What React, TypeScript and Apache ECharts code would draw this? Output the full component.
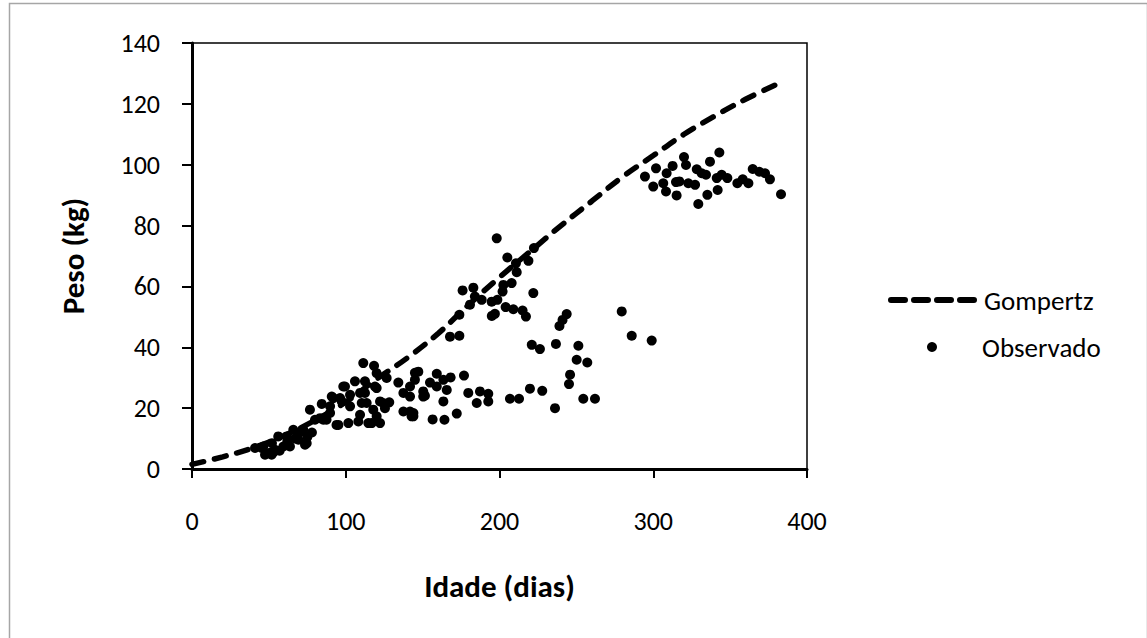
import React, { useEffect, useRef } from "react";
import * as echarts from "echarts";

const FONT = 'Carlito, Lato, "Open Sans", sans-serif';

const xTicks = [0, 100, 200, 300, 400];
const yTicks = [0, 20, 40, 60, 80, 100, 120, 140];

const gompertzAge = [0, 20, 40, 60, 80, 100, 120, 140, 160, 180, 200, 220, 240, 260, 280, 300, 320, 340, 360, 385];
const gompertzWeight = [1.5, 4, 7, 11, 16, 22, 29.5, 36.5, 44.5, 54, 63, 71.5, 80, 88, 96, 103, 110, 116, 121.5, 127.5];

const obsAge = [
  41, 45.3, 46.4, 47.5, 50.7, 51.8, 52, 53, 54, 56.1, 57, 59.4, 61.6, 62, 63.7, 65.9, 67, 69.2, 70, 72.4, 74.6, 75, 73.5, 78, 76.7,
  80, 83.3, 84.4, 85.4, 87.5, 89.8, 89.8, 90.9, 91.9, 94, 95.2, 96.3, 97.4, 98.4, 99.5, 101.7, 102.8, 102.8, 106, 108.2, 109.3, 109.3,
  110.4, 111.4, 112.5, 112.5, 113.6, 114.7, 116.9, 117.9, 118.4, 119, 120.1, 120.1, 120.1, 122.3, 122.3, 124.4, 125.5, 126.6, 128.3,
  134.2, 137.5, 137.5, 141.8, 141.8, 142.8, 144, 145, 141.8, 144,
  147.2, 145, 150.4, 151.5, 150.4, 154.8, 156.5, 159.2, 159.2, 163.5, 163.5, 164.2, 165.7, 168.2, 172.2, 176.9, 179.7, 185.2, 187.3, 192.7, 192.7,
  167.8, 173.9, 173.9, 176, 180.8, 183, 184, 188.4, 194.9, 195, 197, 198.2, 198.6, 202, 202.5, 204, 205.1, 207.9, 209, 210.7, 211.2, 215, 217.2, 218.8, 222, 222.4,
  206.8, 212.7, 219.8, 221, 226.3, 227.8, 236.1, 236.7, 239, 241, 243.7, 245.2, 245.9, 250.2, 251.3, 254.5, 257.1, 262.1,
  279.5, 286, 299,
  294.6, 300, 301.8, 306.5, 308.3, 308.7, 312.6, 314.8, 315.2, 317, 320, 321.3, 322.8, 327.2, 328.3, 329.3, 331.5, 334.3, 335.2, 336.9,
  341.3, 341.9, 343, 344.5, 348.2, 354.7, 358.2, 361.9, 364.7, 369, 372.7, 375.9, 383.1,
];

const obsWeight = [
  6.9, 6.9, 7.4, 4.7, 5.3, 4.7, 8.5, 5.5, 6.3, 10.7, 6, 7.4, 10.7, 9, 7.4, 12.9, 10, 9.6, 12, 12.9, 8.5, 10.5, 8, 12, 19.5,
  16.2, 16.7, 21.4, 16.2, 16.2, 20.6, 18.4, 23.8, 23.3, 14.5, 14.5, 23.3, 22.2, 27.1, 27.1, 15.1, 24.4, 20.6, 28.8, 15.6, 25, 17.8,
  21.7, 34.8, 28.8, 25, 21.7, 15.1, 15.1, 19.5, 33.9, 27.1, 31.5, 26.6, 17.3, 22.2, 15.1, 21.7, 20, 29.9, 21.9,
  28.4, 25, 18.9, 27.1, 18.9, 17.3, 17.3, 31.6, 23.8, 18.4,
  32, 29.3, 25.5, 24.1, 23.8, 28.4, 16.3, 31.3, 27.1, 29.3, 22.2, 16.2, 26, 30.1, 18.2, 30.7, 25, 21.7, 25.5, 24.7, 22.2,
  43.5, 43.8, 50.7, 58.7, 54, 59.6, 56.7, 55.6, 55, 50.3, 51, 75.8, 55.6, 58.3, 60.5, 53.2, 69.5, 61.1, 52.5, 67.6, 64.7, 52.1, 50.1, 68.4, 57.8, 72.6,
  23.1, 23.1, 26.4, 40.8, 39.4, 25.7, 20, 41.1, 47, 49, 50.9, 27.9, 31, 35.9, 40.5, 23.1, 35, 23.1,
  51.8, 43.8, 42.2,
  96.1, 92.8, 98.8, 93.9, 91.2, 97.2, 99.6, 94.3, 89.9, 94.5, 102.5, 99.9, 93.9, 93.4, 98.5, 87.1, 97.2, 96.7, 90.1, 101,
  95.6, 91.7, 104, 96.7, 95.6, 93.9, 95.2, 93.9, 98.6, 97.7, 97.2, 95.2, 90.3,
];

export default function App() {
  const ref = useRef<HTMLDivElement>(null);

  useEffect(() => {
    if (!ref.current) return;
    const chart = echarts.init(ref.current, undefined, { renderer: "svg" });

    const lineData = gompertzAge.map((a, i) => [a, gompertzWeight[i]]);
    const obsData = obsAge.map((a, i) => [a, obsWeight[i]]);

    const textBase = { fontFamily: FONT, color: "#000" };

    chart.setOption({
      animation: false,
      backgroundColor: "#fff",
      textStyle: { fontFamily: FONT },
      grid: {
        left: 192,
        right: 340,
        top: 43,
        bottom: 169,
        show: true,
        borderColor: "#000",
        borderWidth: 1.5,
        backgroundColor: "transparent",
      },
      xAxis: {
        type: "value",
        min: xTicks[0],
        max: xTicks[xTicks.length - 1],
        interval: 100,
        name: "Idade (dias)",
        nameLocation: "middle",
        nameGap: 101,
        nameTextStyle: { ...textBase, fontSize: 31, fontWeight: "bold" },
        axisLine: { show: true, onZero: false, lineStyle: { color: "#000", width: 3 } },
        axisTick: { show: true, inside: false, length: 9, lineStyle: { color: "#000", width: 2 } },
        axisLabel: { ...textBase, fontSize: 26, margin: 39 },
        splitLine: { show: false },
      },
      yAxis: {
        type: "value",
        min: yTicks[0],
        max: yTicks[yTicks.length - 1],
        interval: 20,
        name: "Peso (kg)",
        nameLocation: "middle",
        nameGap: 104,
        nameTextStyle: { ...textBase, fontSize: 31, fontWeight: "bold" },
        axisLine: { show: true, onZero: false, lineStyle: { color: "#000", width: 3 } },
        axisTick: { show: true, inside: false, length: 10, lineStyle: { color: "#000", width: 2 } },
        axisLabel: { ...textBase, fontSize: 26, margin: 32 },
        splitLine: { show: false },
      },
      legend: [
        {
          data: ["Gompertz"],
          left: 883,
          top: 280,
          orient: "vertical",
          itemWidth: 85,
          itemHeight: 6,
          itemStyle: { color: "transparent", borderWidth: 0 },
          lineStyle: { color: "#000", width: 6, type: [14, 9], cap: "round" },
          textStyle: { ...textBase, fontSize: 27, lineHeight: 30, padding: [0, 0, 0, 3] },
          selectedMode: false,
        },
        {
          data: ["Observado"],
          left: 922,
          top: 327,
          orient: "vertical",
          icon: "circle",
          itemWidth: 10,
          itemHeight: 10,
          itemStyle: { color: "#000", opacity: 1 },
          textStyle: { ...textBase, fontSize: 27, lineHeight: 30, padding: [0, 0, 0, 40] },
          selectedMode: false,
        },
      ],
      graphic: [
        {
          type: "rect",
          left: 7,
          top: 1,
          shape: { width: 1138, height: 660 },
          style: { fill: "none", stroke: "#a6a6a6", lineWidth: 1.5 },
          silent: true,
        },
      ],
      series: [
        {
          name: "Gompertz",
          type: "line",
          data: lineData,
          smooth: 0.4,
          symbol: "none",
          lineStyle: { color: "#000", width: 5.5, type: [12, 11], cap: "round" },
          itemStyle: { color: "#000" },
          z: 3,
        },
        {
          name: "Observado",
          type: "scatter",
          data: obsData,
          symbol: "circle",
          symbolSize: 10,
          itemStyle: { color: "#000", opacity: 1 },
          z: 2,
        },
      ],
    });

    return () => chart.dispose();
  }, []);

  return (
    <div
      ref={ref}
      style={{ position: "fixed", left: 0, top: 0, width: 1147, height: 638, background: "#fff" }}
    />
  );
}
